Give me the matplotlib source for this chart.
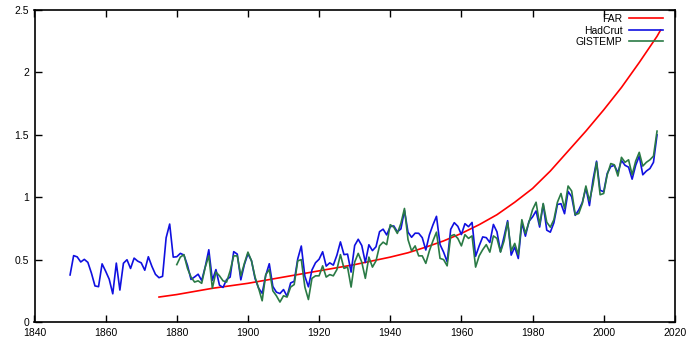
import numpy as np
import matplotlib
matplotlib.use('Agg')
import matplotlib.pyplot as plt

# annual series
had_years = list(range(1850, 2016))
hadcrut = [0.377, 0.532, 0.522, 0.481, 0.502, 0.478, 0.392, 0.289, 0.283, 0.466,
           0.407, 0.343, 0.226, 0.472, 0.256, 0.471, 0.499, 0.429, 0.512, 0.488,
           0.474, 0.415, 0.523, 0.446, 0.382, 0.355, 0.366, 0.675, 0.785, 0.520,
           0.523, 0.550, 0.537, 0.454, 0.341, 0.361, 0.383, 0.332, 0.443, 0.579,
           0.334, 0.420, 0.295, 0.277, 0.340, 0.360, 0.564, 0.544, 0.338, 0.461,
           0.547, 0.491, 0.348, 0.271, 0.230, 0.373, 0.467, 0.285, 0.239, 0.228,
           0.260, 0.206, 0.313, 0.326, 0.506, 0.609, 0.367, 0.282, 0.417, 0.475,
           0.503, 0.563, 0.448, 0.474, 0.456, 0.535, 0.642, 0.540, 0.544, 0.400,
           0.613, 0.663, 0.613, 0.477, 0.619, 0.572, 0.603, 0.724, 0.744, 0.698,
           0.764, 0.770, 0.723, 0.746, 0.894, 0.720, 0.679, 0.712, 0.711, 0.676,
           0.577, 0.698, 0.778, 0.847, 0.621, 0.560, 0.483, 0.743, 0.796, 0.767,
           0.701, 0.788, 0.764, 0.798, 0.527, 0.610, 0.682, 0.676, 0.637, 0.782,
           0.723, 0.564, 0.685, 0.812, 0.536, 0.601, 0.509, 0.797, 0.688, 0.807,
           0.842, 0.890, 0.761, 0.944, 0.736, 0.720, 0.795, 0.942, 0.948, 0.868,
           1.046, 1.004, 0.855, 0.898, 0.958, 1.075, 0.933, 1.140, 1.289, 1.056,
           1.044, 1.191, 1.246, 1.255, 1.197, 1.295, 1.256, 1.241, 1.145, 1.256,
           1.330, 1.180, 1.210, 1.230, 1.280, 1.500]

gis_years = list(range(1880, 2016))
gistemp = [0.46, 0.52, 0.54, 0.43, 0.36, 0.32, 0.33, 0.31, 0.44, 0.53,
           0.27, 0.40, 0.37, 0.33, 0.32, 0.41, 0.53, 0.53, 0.37, 0.47,
           0.56, 0.49, 0.36, 0.27, 0.17, 0.38, 0.42, 0.25, 0.21, 0.16,
           0.21, 0.20, 0.28, 0.30, 0.49, 0.50, 0.28, 0.18, 0.35, 0.37,
           0.37, 0.45, 0.36, 0.38, 0.37, 0.42, 0.54, 0.43, 0.44, 0.28,
           0.48, 0.55, 0.48, 0.35, 0.52, 0.44, 0.49, 0.61, 0.64, 0.62,
           0.78, 0.76, 0.71, 0.79, 0.91, 0.66, 0.57, 0.61, 0.53, 0.53,
           0.47, 0.57, 0.65, 0.72, 0.51, 0.50, 0.45, 0.69, 0.70, 0.67,
           0.61, 0.70, 0.67, 0.69, 0.44, 0.53, 0.58, 0.62, 0.56, 0.69,
           0.67, 0.56, 0.65, 0.80, 0.57, 0.63, 0.54, 0.82, 0.71, 0.80,
           0.90, 0.96, 0.78, 0.95, 0.80, 0.76, 0.82, 0.96, 1.03, 0.91,
           1.09, 1.05, 0.86, 0.87, 0.95, 1.09, 0.97, 1.10, 1.28, 1.02,
           1.03, 1.18, 1.27, 1.26, 1.17, 1.32, 1.28, 1.30, 1.18, 1.29,
           1.36, 1.25, 1.28, 1.30, 1.33, 1.53]

far_years = [1875, 1880, 1885, 1890, 1895, 1900, 1905, 1910, 1915, 1920,
             1925, 1930, 1935, 1940, 1945, 1950, 1955, 1960, 1965, 1970,
             1975, 1980, 1985, 1990, 1995, 2000, 2005, 2010, 2015, 2016]
far = [0.20, 0.22, 0.245, 0.27, 0.29, 0.31, 0.335, 0.36, 0.385, 0.41,
       0.435, 0.46, 0.49, 0.52, 0.555, 0.60, 0.65, 0.71, 0.78, 0.86,
       0.96, 1.07, 1.21, 1.37, 1.53, 1.70, 1.88, 2.08, 2.29, 2.34]

xticks = [1840, 1860, 1880, 1900, 1920, 1940, 1960, 1980, 2000, 2020]
yticks = [0, 0.5, 1, 1.5, 2, 2.5]
ytick_labels = ['0', '0.5', '1', '1.5', '2', '2.5']

plt.rcParams['font.family'] = ['Liberation Sans', 'DejaVu Sans']

fig = plt.figure(figsize=(6.9, 3.45), dpi=100)
ax = fig.add_axes([0.05, 0.0667, 0.928, 0.904])

ax.plot(far_years, far, color='#ff0000', lw=1.2, label='FAR')
ax.plot(had_years, hadcrut, color='#1010e0', lw=1.2, label='HadCrut')
ax.plot(gis_years, gistemp, color='#2a7a45', lw=1.2, label='GISTEMP')

ax.set_xlim(1840, 2020)
ax.set_ylim(0, 2.5)
ax.set_xticks(xticks)
ax.set_yticks(yticks)
ax.set_yticklabels(ytick_labels)
ax.tick_params(direction='in', top=True, right=True, length=5, width=1,
               labelsize=7.5, pad=4)
for s in ax.spines.values():
    s.set_linewidth(1.2)

ax.legend(loc='upper right', bbox_to_anchor=(663 / 690, 1 - 14 / 345),
          bbox_transform=fig.transFigure, frameon=False, markerfirst=False,
          fontsize=7.5, handlelength=3.3, handletextpad=0.6,
          labelspacing=0.15, borderpad=0, borderaxespad=0)

plt.savefig('out.png', dpi=100)
